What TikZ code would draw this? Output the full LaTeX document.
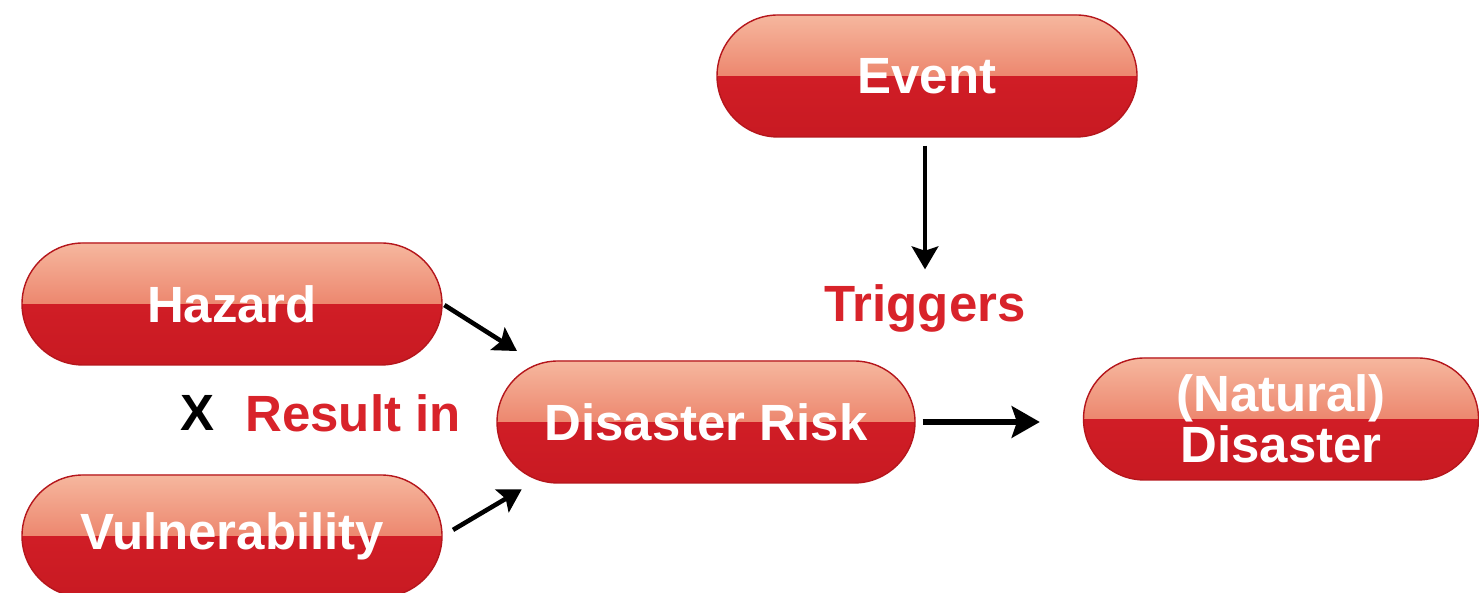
\documentclass[tikz,border=0pt]{standalone}
\usepackage{fontspec}
\setmainfont{Liberation Sans}
\usetikzlibrary{shapes.misc}
\usetikzlibrary{arrows.meta}
\definecolor{pilltop}{HTML}{F6B79E}
\definecolor{pillmid}{HTML}{E3573F}
\definecolor{pillred}{HTML}{D9202A}
\definecolor{pilldark}{HTML}{C81A22}
\definecolor{pillline}{HTML}{B5161C}
\definecolor{labelred}{HTML}{D8232A}
\tikzstyle{redpill}=[
      rounded rectangle,
      minimum width = 4.2cm,
      minimum height = 1.22cm,
      inner sep = 0pt,
      draw = pillline,
      line width = 0.4pt,
      top color = pillred,
      bottom color = pilldark,
      path picture = {\fill[top color=pilltop, bottom color=pillmid]
        (path picture bounding box.north west) rectangle
        (path picture bounding box.east);},
      text = white,
      align = center,
      font = \fontsize{14.5}{12}\selectfont\bfseries
      ]
\tikzstyle{redword}=[
      inner sep = 4pt,
      text = labelred,
      font = \fontsize{14.5}{15}\selectfont\bfseries
      ]
\tikzstyle{arr}=[
      line width = 1.3pt,
      -{Stealth[length=6.5pt,width=7.5pt,inset=1.2pt]}
      ]

\begin{document}
\begin{tikzpicture}
\useasboundingbox (0,0) rectangle (14.79,5.93);

\node [redpill] (event) at (9.27,5.17) {Event};
\node [redpill] (hazard) at (2.32,2.89) {Hazard};
\node [redpill] (vuln) at (2.32,0.57) {Vulnerability};
\node [redpill, minimum width=4.18cm] (risk) at (7.06,1.71) {Disaster Risk};
\node [redpill, minimum width=3.95cm] (natural) at (12.81,1.74) {(Natural)\\Disaster};

\node [redword] (trig) at (9.25,2.85) {Triggers};
\node [redword] (result) at (3.53,1.80) {Result in};
\node [redword, text=black] (times) at (1.97,1.80) {X};

% connectors
\draw [arr, shorten <=0.08cm] (event.south -| trig.north) -- (trig.north);
\draw [arr, shorten <=0.02cm, shorten >=0.24cm] (hazard.east) -- (risk.161);
\draw [arr, shorten <=0.12cm, shorten >=0.18cm] (vuln.east) -- (risk.199);
\draw [arr, line width=1.5pt, shorten <=0.07cm, shorten >=0.43cm,
       -{Stealth[length=8pt,width=9pt,inset=1.5pt]}] (risk.east) -- (risk.east -| natural.west);
\end{tikzpicture}
\end{document}
